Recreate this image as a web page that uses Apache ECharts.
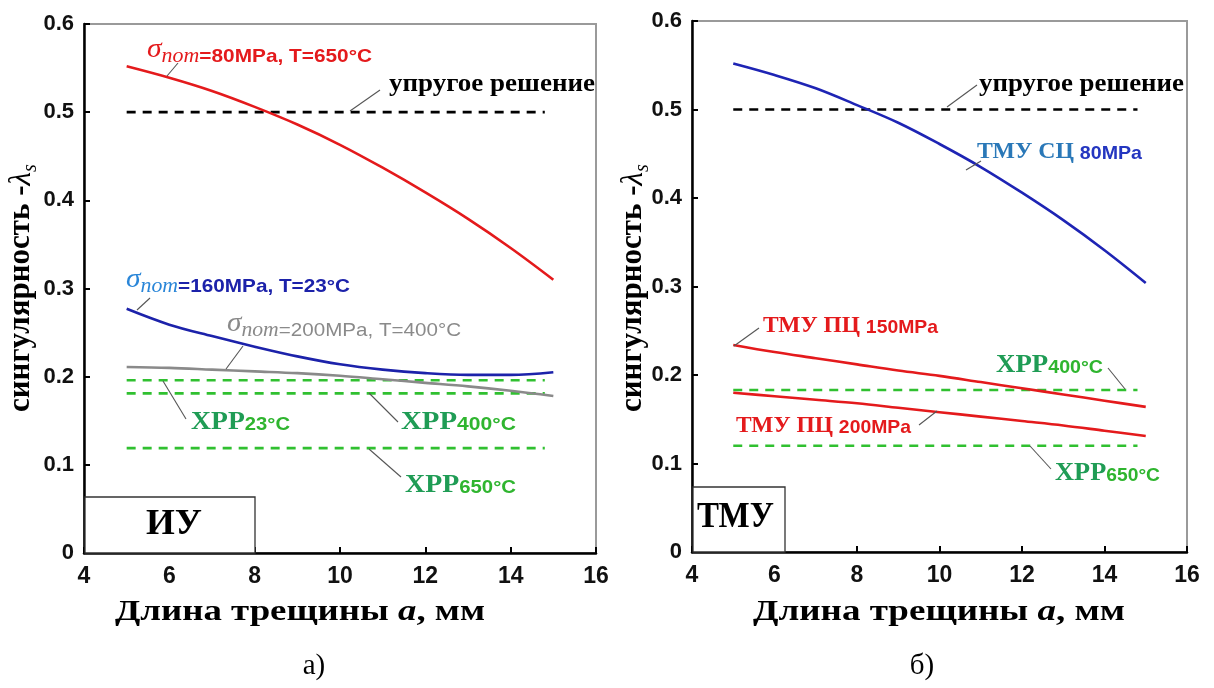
<!DOCTYPE html>
<html><head><meta charset="utf-8">
<script src="https://cdn.jsdelivr.net/npm/echarts@6/dist/echarts.min.js"></script>
<style>html,body{margin:0;padding:0;background:#fff}#c{width:1214px;height:688px}</style>
</head><body><div id="c"></div>
<script>
// ---------- data ----------
const xTicks = [4, 6, 8, 10, 12, 14, 16];
const yTicks = [0, 0.1, 0.2, 0.3, 0.4, 0.5, 0.6];
const crackA = [5, 6, 7, 8, 9, 10, 11, 12, 13, 14, 15];
// panel а) ИУ
const iu80MPa650C  = [0.552, 0.539, 0.524, 0.506, 0.486, 0.463, 0.437, 0.409, 0.379, 0.346, 0.310];
const iu160MPa23C  = [0.277, 0.259, 0.246, 0.234, 0.223, 0.214, 0.208, 0.204, 0.202, 0.202, 0.205];
const iu200MPa400C = [0.211, 0.210, 0.208, 0.206, 0.204, 0.201, 0.197, 0.193, 0.189, 0.184, 0.178];
// panel б) ТМУ
const tmuSC80  = [0.552, 0.539, 0.524, 0.505, 0.485, 0.461, 0.435, 0.406, 0.375, 0.341, 0.304];
const tmuPC150 = [0.234, 0.226, 0.219, 0.212, 0.205, 0.199, 0.192, 0.185, 0.178, 0.171, 0.164];
const tmuPC200 = [0.180, 0.176, 0.172, 0.168, 0.163, 0.158, 0.153, 0.148, 0.143, 0.137, 0.131];
// reference levels
const refSpan = [5, 14.8];
const elastic = 0.5;
const xrr23 = 0.196, xrr400 = 0.181, xrr650 = 0.119;
const xrr400R = 0.183, xrr650R = 0.120;

// ---------- style ----------
const SANS = '"Liberation Sans", Arial, sans-serif';
const SERIF = '"Liberation Serif", "Times New Roman", serif';
const RED = '#e41a1c', DBLUE = '#1c22aa', LBLUE = '#2a86d8', GRAY = '#8a8a8a';
const GREEN = '#30c030', GTXT1 = '#1f9c55', GTXT2 = '#2fb52f';
const SCBLUE = '#2a78b8', BLUE2 = '#2436c0', LEAD = '#555';

const pairs = (xs, ys) => xs.map((x, i) => [x, ys[i]]);
const level = v => refSpan.map(x => [x, v]);

function curve(idx, ys, color) {
  return {type: 'line', xAxisIndex: idx, yAxisIndex: idx, data: pairs(crackA, ys), smooth: 0.35,
    symbol: 'none', silent: true, lineStyle: {color, width: 2.6}, z: 3};
}
function dashed(idx, v, color) {
  return {type: 'line', xAxisIndex: idx, yAxisIndex: idx, data: level(v), symbol: 'none', silent: true,
    lineStyle: {color, width: 2.6, type: [9, 7]}, z: 2};
}
function xAx(idx) {
  return {gridIndex: idx, type: 'value', min: 4, max: 16, interval: 2,
    axisLine: {lineStyle: {color: '#000', width: 2.5}},
    axisTick: {inside: true, length: 6, lineStyle: {color: '#000', width: 2}},
    axisLabel: {fontFamily: SANS, fontWeight: 'bold', fontSize: 23, color: '#111', margin: 12,
      formatter: v => xTicks.includes(v) ? String(v) : ''},
    splitLine: {show: false}};
}
function yAx(idx) {
  return {gridIndex: idx, type: 'value', min: 0, max: 0.6, interval: 0.1,
    axisLine: {lineStyle: {color: '#000', width: 2.5}},
    axisTick: {inside: true, length: 6, lineStyle: {color: '#000', width: 2}},
    axisLabel: {fontFamily: SANS, fontWeight: 'bold', fontSize: 22, color: '#111', margin: 10,
      formatter: v => { const t = yTicks.find(k => Math.abs(k - v) < 1e-9); return t === 0 ? '0' : t.toFixed(1); }},
    splitLine: {show: false}};
}

const chart = echarts.init(document.getElementById('c'));
chart.setOption({
  animation: false,
  backgroundColor: '#fff',
  grid: [
    {left: 84, top: 24, width: 512, height: 529, show: true, borderColor: '#9a9a9a', borderWidth: 2, backgroundColor: 'rgba(0,0,0,0)'},
    {left: 692, top: 21, width: 495, height: 531, show: true, borderColor: '#9a9a9a', borderWidth: 2, backgroundColor: 'rgba(0,0,0,0)'}
  ],
  xAxis: [xAx(0), xAx(1)],
  yAxis: [yAx(0), yAx(1)],
  series: [
    dashed(0, elastic, '#000'), dashed(0, xrr23, GREEN), dashed(0, xrr400, GREEN), dashed(0, xrr650, GREEN),
    curve(0, iu200MPa400C, GRAY), curve(0, iu160MPa23C, DBLUE), curve(0, iu80MPa650C, RED),
    dashed(1, elastic, '#000'), dashed(1, xrr400R, GREEN), dashed(1, xrr650R, GREEN),
    curve(1, tmuSC80, '#1e24b4'), curve(1, tmuPC150, RED), curve(1, tmuPC200, RED)
  ]
});

// ---------- annotations ----------
const mctx = document.createElement('canvas').getContext('2d');
function measure(t, font) { mctx.font = font; return mctx.measureText(t).width; }
function fnt(style, weight, size, fam) { return `${style} ${weight} ${size}px ${fam}`; }
function P(t, style, weight, size, fam, color, dy) { return {t, font: fnt(style, weight, size, fam), size, color, dy: dy || 0}; }

function textRun(parts, x0, y0, opts) {
  opts = opts || {};
  const rot = opts.rot || 0;
  const widths = parts.map(p => measure(p.t, p.font));
  const total = widths.reduce((a, b) => a + b, 0);
  const s = opts.width ? opts.width / total : 1;
  let u = opts.align === 'center' ? -total * s / 2 : 0;
  const els = [];
  const c = Math.cos(rot), sn = Math.sin(rot);
  parts.forEach((p, i) => {
    const v = p.dy - 0.34 * p.size;
    els.push({type: 'text', x: x0 + u * c + v * sn, y: y0 - u * sn + v * c, rotation: rot, scaleX: s, silent: true, z: 10,
      style: {text: p.t, font: p.font, fill: p.color, align: 'left', verticalAlign: 'middle',
              textAlign: 'left', textVerticalAlign: 'middle'}});
    u += widths[i] * s;
  });
  return els;
}
function lead(x1, y1, x2, y2) {
  return {type: 'line', silent: true, z: 9, shape: {x1, y1, x2, y2}, style: {stroke: LEAD, lineWidth: 1.1}};
}
function box(x, y, w, h) {
  return {type: 'rect', silent: true, z: 8, shape: {x, y, width: w, height: h}, style: {fill: '#fff', stroke: '#333', lineWidth: 1.3}};
}
function sigma(color, rest, restColor, weight) {
  return [P('σ', 'italic', 'normal', 27, SERIF, color, -4), P('nom', 'italic', 'normal', 20, SERIF, color, 1),
          P(rest, 'normal', weight || 'bold', 19, SANS, restColor)];
}
function xrr(t) { return [P('ХРР', 'normal', 'bold', 26, SERIF, GTXT1), P(t, 'normal', 'bold', 19, SANS, GTXT2)]; }

let g = [];
// panel а)
g.push(box(85, 497, 170, 56));
g = g.concat(textRun([P('ИУ', 'normal', 'bold', 35, SERIF, '#000')], 146, 537, {width: 56}));
g = g.concat(textRun(sigma(RED, '=80MPa, T=650°C', RED), 147, 63, {width: 225}));
g.push(lead(167, 76, 178, 63));
g = g.concat(textRun([P('упругое решение', 'normal', 'bold', 25, SERIF, '#000')], 389, 93, {width: 206}));
g.push(lead(350, 111, 380, 90));
g = g.concat(textRun(sigma(LBLUE, '=160MPa, T=23°C', DBLUE), 126, 293, {width: 224}));
g.push(lead(137, 310, 150, 298));
g = g.concat(textRun(sigma(GRAY, '=200MPa, T=400°C', GRAY, 'normal'), 227, 337, {width: 234}));
g.push(lead(226, 369, 243, 346));
g = g.concat(textRun(xrr('23°C'), 191, 431, {width: 99}));
g.push(lead(163, 381, 186, 419));
g = g.concat(textRun(xrr('400°C'), 401, 431, {width: 115}));
g.push(lead(369, 393, 398, 422));
g = g.concat(textRun(xrr('650°C'), 405, 494, {width: 111}));
g.push(lead(369, 449, 401, 477));
// panel б)
g.push(box(693, 487, 92, 65));
g = g.concat(textRun([P('ТМУ', 'normal', 'bold', 35, SERIF, '#000')], 697, 530, {width: 77}));
g = g.concat(textRun([P('упругое решение', 'normal', 'bold', 25, SERIF, '#000')], 979, 93, {width: 205}));
g.push(lead(947, 107, 977, 85));
g = g.concat(textRun([P('ТМУ СЦ ', 'normal', 'bold', 23, SERIF, SCBLUE), P('80MPa', 'normal', 'bold', 19, SANS, BLUE2)], 977, 160, {width: 165}));
g.push(lead(966, 170, 981, 161));
g = g.concat(textRun([P('ТМУ ПЦ ', 'normal', 'bold', 23, SERIF, RED), P('150MPa', 'normal', 'bold', 19, SANS, RED)], 763, 334, {width: 175}));
g.push(lead(734, 346, 759, 328));
g = g.concat(textRun([P('ТМУ ПЦ ', 'normal', 'bold', 23, SERIF, RED), P('200MPa', 'normal', 'bold', 19, SANS, RED)], 736, 434, {width: 175}));
g.push(lead(919, 425, 937, 411));
g = g.concat(textRun(xrr('400°C'), 996, 374, {width: 107}));
g.push(lead(1108, 368, 1125, 389));
g = g.concat(textRun(xrr('650°C'), 1055, 482, {width: 105}));
g.push(lead(1030, 446, 1051, 469));
// axis titles
function yTitle() { return [P('сингулярность -', 'normal', 'bold', 31, SERIF, '#000'), P('λ', 'italic', 'normal', 31, SERIF, '#000'), P('s', 'italic', 'normal', 20, SERIF, '#000', 6)]; }
function xTitle() { return [P('Длина трещины ', 'normal', 'bold', 30, SERIF, '#000'), P('a', 'italic', 'bold', 30, SERIF, '#000'), P(', мм', 'normal', 'bold', 30, SERIF, '#000')]; }
g = g.concat(textRun(yTitle(), 32, 412, {rot: Math.PI / 2}));
g = g.concat(textRun(yTitle(), 644, 412, {rot: Math.PI / 2}));
g = g.concat(textRun(xTitle(), 300, 622, {align: 'center', width: 370}));
g = g.concat(textRun(xTitle(), 939, 622, {align: 'center', width: 372}));
// captions
g = g.concat(textRun([P('а)', 'normal', 'normal', 29, SERIF, '#000')], 314, 676, {align: 'center'}));
g = g.concat(textRun([P('б)', 'normal', 'normal', 29, SERIF, '#000')], 922, 676, {align: 'center'}));

chart.setOption({graphic: {elements: g}});
</script>
</body></html>
